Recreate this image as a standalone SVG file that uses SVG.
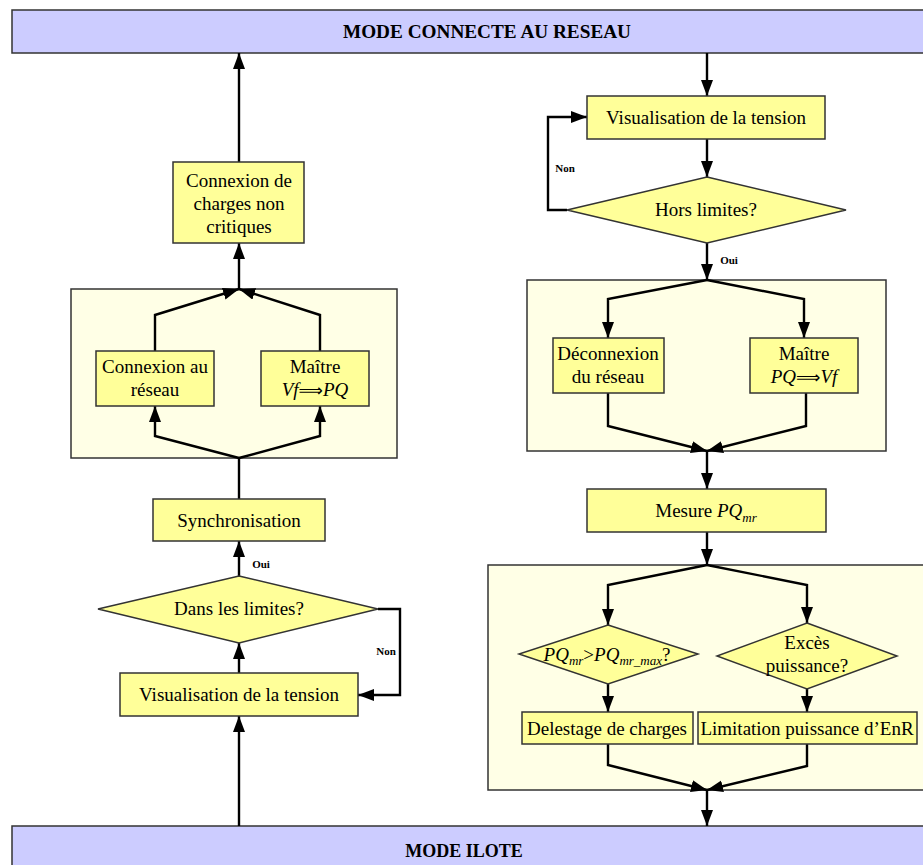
<svg xmlns="http://www.w3.org/2000/svg" width="923" height="865" viewBox="0 0 923 865">
<defs>
<marker id="ah" markerUnits="userSpaceOnUse" markerWidth="17" markerHeight="13" refX="16" refY="6" orient="auto">
<path d="M0,0 L16,6 L0,12 z" fill="#000"/>
</marker>
<style>
.bar{fill:#CCCCFF;stroke:#333;stroke-width:1.5}
.box{fill:#FFFF99;stroke:#333;stroke-width:1.5}
.cont{fill:#FFFFE6;stroke:#333;stroke-width:1.5}
.ln{fill:none;stroke:#000;stroke-width:2.4}
.ar{fill:none;stroke:#000;stroke-width:2.4;marker-end:url(#ah)}
text{font-family:"Liberation Serif","Times New Roman",serif;font-size:19px;fill:#000;text-anchor:middle}
.bt{font-weight:bold}
.lb{font-size:11px;font-weight:bold}
.it{font-style:italic}
.sub{font-style:italic;font-size:13px}
.sym{font-family:"DejaVu Sans",sans-serif;font-size:17px}
</style>
</defs>
<g id="mode-connecte">
<rect class="bar" x="12" y="10" width="920" height="43"/>
<text class="bt" x="487" y="38" textLength="288" lengthAdjust="spacingAndGlyphs">MODE CONNECTE AU RESEAU</text>
</g>
<g id="mode-ilote">
<rect class="bar" x="12" y="826" width="920" height="50"/>
<text class="bt" x="464" y="857" style="font-size:18px">MODE ILOTE</text>
</g>
<g id="container-left"><rect class="cont" x="71" y="289" width="326" height="169"/></g>
<g id="container-right1"><rect class="cont" x="527" y="280" width="359" height="171"/></g>
<g id="container-right2"><rect class="cont" x="488" y="565" width="445" height="225"/></g>
<g id="connectors">
<path class="ar" d="M239,826 V716"/>
<path class="ar" d="M239,673 V643"/>
<path class="ar" d="M378,609 H400 V695 H358"/>
<path class="ar" d="M239,576 V541"/>
<path class="ln" d="M239,499 V458"/>
<path class="ar" d="M239,458 L155,436 V406"/>
<path class="ar" d="M239,458 L320,436 V406"/>
<path class="ar" d="M155,351 V315 L239,289"/>
<path class="ar" d="M320,351 V315 L239,289"/>
<path class="ar" d="M239,289 V243"/>
<path class="ar" d="M239,162 V53"/>
<path class="ar" d="M707,53 V96"/>
<path class="ar" d="M707,139 V177"/>
<path class="ar" d="M567,210 H548 V117 H587"/>
<path class="ar" d="M707,243 V280"/>
<path class="ar" d="M707,280 L608,299 V338"/>
<path class="ar" d="M707,280 L804,299 V338"/>
<path class="ar" d="M608,393 V426 L707,451"/>
<path class="ar" d="M806,393 V426 L707,451"/>
<path class="ar" d="M707,451 V489"/>
<path class="ar" d="M707,532 V565"/>
<path class="ar" d="M707,565 L608,585 V625"/>
<path class="ar" d="M707,565 L807,585 V623"/>
<path class="ar" d="M608,684 V712"/>
<path class="ar" d="M807,689 V712"/>
<path class="ar" d="M608,744 V765 L707,790"/>
<path class="ar" d="M807,744 V766 L707,790"/>
<path class="ar" d="M707,790 V826"/>
<text class="lb" x="386" y="655">Non</text>
<text class="lb" x="261" y="568">Oui</text>
<text class="lb" x="565" y="172">Non</text>
<text class="lb" x="729" y="264">Oui</text>
</g>
<g id="vis-left">
<rect class="box" x="120" y="673" width="238" height="43"/>
<text x="239" y="701">Visualisation de la tension</text>
</g>
<g id="dans-limites">
<polygon class="box" points="239,576 378,609 239,643 98,609"/>
<text x="239" y="615">Dans les limites?</text>
</g>
<g id="synchronisation">
<rect class="box" x="153" y="499" width="172" height="42"/>
<text x="239" y="527">Synchronisation</text>
</g>
<g id="connexion-reseau">
<rect class="box" x="96" y="351" width="118" height="55"/>
<text x="155" y="373">Connexion au</text>
<text x="155" y="396">réseau</text>
</g>
<g id="maitre-vf-pq">
<rect class="box" x="261" y="351" width="108" height="55"/>
<text x="315" y="373">Maître</text>
<text x="315" y="396"><tspan class="it">Vf</tspan><tspan class="sym">⟹</tspan><tspan class="it">PQ</tspan></text>
</g>
<g id="connexion-charges">
<rect class="box" x="173" y="162" width="131" height="81"/>
<text x="239" y="187">Connexion de</text>
<text x="239" y="210">charges non</text>
<text x="239" y="233">critiques</text>
</g>
<g id="vis-right">
<rect class="box" x="587" y="96" width="238" height="43"/>
<text x="706" y="124">Visualisation de la tension</text>
</g>
<g id="hors-limites">
<polygon class="box" points="707,177 846,210 707,243 567,210"/>
<text x="706" y="216">Hors limites?</text>
</g>
<g id="deconnexion">
<rect class="box" x="553" y="338" width="111" height="55"/>
<text x="608" y="360">Déconnexion</text>
<text x="608" y="383">du réseau</text>
</g>
<g id="maitre-pq-vf">
<rect class="box" x="750" y="338" width="108" height="55"/>
<text x="804" y="360">Maître</text>
<text x="804" y="383"><tspan class="it">PQ</tspan><tspan class="sym">⟹</tspan><tspan class="it">Vf</tspan></text>
</g>
<g id="mesure">
<rect class="box" x="587" y="489" width="239" height="43"/>
<text x="706" y="517">Mesure <tspan class="it">PQ</tspan><tspan class="sub" dy="5">mr</tspan></text>
</g>
<g id="pq-max">
<polygon class="box" points="608,625 698,654 608,684 519,654"/>
<text x="607" y="661"><tspan class="it">PQ</tspan><tspan class="sub" dy="4">mr</tspan><tspan dy="-4">&gt;</tspan><tspan class="it">PQ</tspan><tspan class="sub" dy="4">mr_max</tspan><tspan dy="-4">?</tspan></text>
</g>
<g id="exces">
<polygon class="box" points="807,623 897,656 807,689 717,656"/>
<text x="807" y="649">Excès</text>
<text x="807" y="672">puissance?</text>
</g>
<g id="delestage">
<rect class="box" x="522" y="712" width="171" height="32"/>
<text x="607" y="735">Delestage de charges</text>
</g>
<g id="limitation">
<rect class="box" x="698" y="712" width="219" height="32"/>
<text x="807" y="735">Limitation puissance d’EnR</text>
</g>
</svg>
